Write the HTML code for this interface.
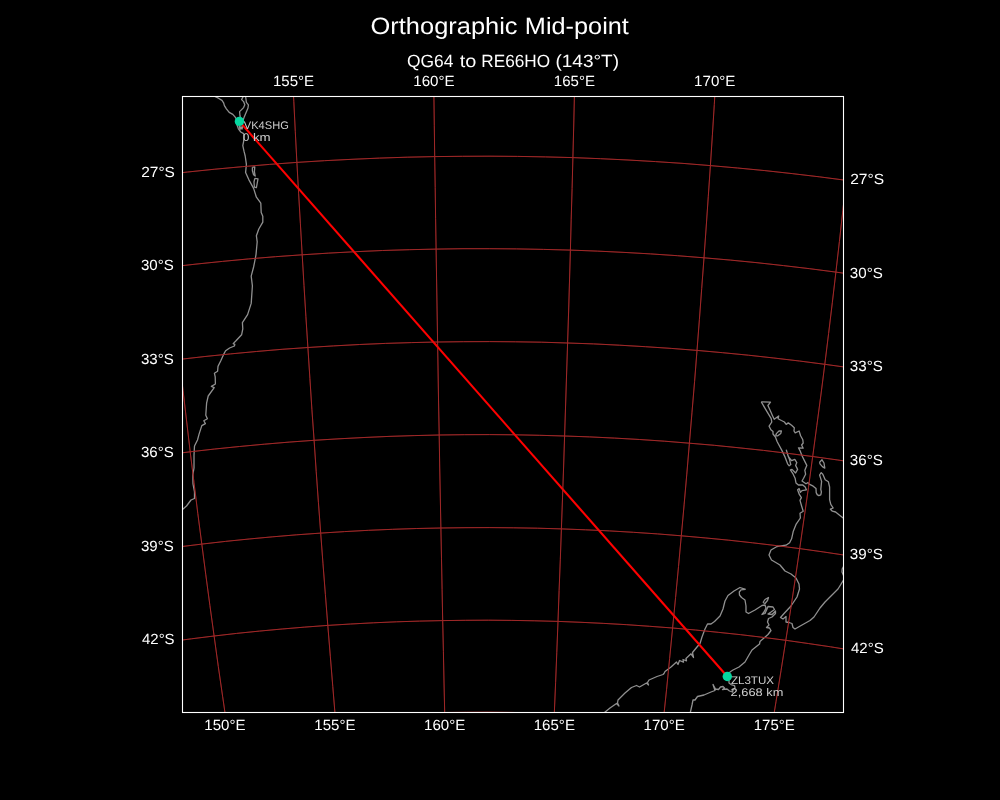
<!DOCTYPE html>
<html><head><meta charset="utf-8"><title>Orthographic Mid-point</title>
<style>html,body{margin:0;padding:0;background:#000;}body{width:1000px;height:800px;overflow:hidden;font-family:"Liberation Sans",sans-serif;}svg{display:block;}</style>
</head><body>
<svg width="1000" height="800" viewBox="0 0 1000 800" style="will-change:transform">
<defs><clipPath id="ax"><rect x="182.5" y="96.5" width="661" height="616"/></clipPath></defs>
<rect width="1000" height="800" fill="#000"/>
<g clip-path="url(#ax)" fill="none" stroke-linejoin="round" stroke-linecap="butt">
<path d="M214.8 96.5 L218.4 98.2 L222.0 100.4 L223.6 102.8 L224.4 105.6 L226.4 108.8 L229.2 112.4 L232.8 114.4 L235.2 117.2 L237.0 120.0 L236.8 123.5 L237.2 125.6 L238.4 128.8 L240.8 132.0 L243.6 133.6 L244.0 136.8 L243.6 141.6 L242.8 145.6 L244.0 151.2 L245.2 156.0 L246.4 164.4 L245.6 172.4 L248.8 179.6 L253.6 188.4 L256.4 197.2 L260.8 203.2 L261.2 212.6 L262.8 216.2 L262.8 222.2 L258.8 229.0 L256.4 235.8 L257.2 241.8 L256.0 254.6 L254.8 261.0 L253.6 267.0 L251.2 276.2 L252.4 285.8 L251.2 303.4 L247.6 314.6 L242.4 322.6 L242.8 328.8 L241.6 334.8 L236.0 340.8 L233.2 343.6 L234.8 344.4 L234.4 346.0 L229.6 348.0 L225.6 350.8 L223.6 354.4 L220.8 360.8 L218.0 366.4 L217.6 371.2 L214.4 373.2 L215.2 376.8 L215.4 384.0 L211.4 386.4 L214.2 387.6 L208.2 396.0 L206.6 403.2 L205.8 415.2 L207.4 418.8 L203.8 420.8 L205.4 423.6 L201.8 425.6 L199.0 434.4 L197.5 440.0 L194.5 446.0 L194.0 455.0 L194.0 468.0 L192.8 475.0 L193.0 484.0 L194.5 492.0 L194.5 498.5 L191.0 500.0 L186.5 506.0 L182.5 509.5" stroke="#909090" stroke-width="1.3"/>
<path d="M239.2 126.0 L240.0 129.5 L241.0 126.5 L242.0 129.2 L243.0 125.5" stroke="#909090" stroke-width="1.3"/>
<path d="M243.2 96.5 L241.6 99.6 L243.6 101.6 L244.8 104.8 L243.6 107.6 L239.6 111.6 L240.0 116.0 L241.0 120.0 L242.5 122.0 L244.0 117.6 L246.0 112.8 L248.0 108.0 L248.4 104.8 L246.4 102.4 L245.6 96.5" stroke="#909090" stroke-width="1.3"/>
<path d="M252.4 167.2 L254.8 166.8 L254.4 171.6 L255.2 176.0 L253.6 174.8 L252.4 170.8 L252.4 167.2" stroke="#909090" stroke-width="1.3"/>
<path d="M254.8 178.4 L258.0 178.8 L256.4 187.6 L254.4 187.2 L254.0 182.0 L254.8 178.4" stroke="#909090" stroke-width="1.3"/>
<path d="M761.3 401.9 L770.5 402.1 L767.9 405.5 L770.0 410.0 L772.4 415.4 L774.2 419.3 L778.7 416.0 L778.1 418.7 L781.4 420.5 L784.4 422.0 L786.2 424.4 L788.3 422.9 L791.6 425.3 L794.3 427.7 L794.0 431.0 L795.2 432.8 L799.1 431.0 L800.6 435.8 L802.8 439.8 L803.2 443.0 L801.6 445.0 L803.2 448.2 L798.4 447.8 L800.0 450.6 L802.0 455.8 L804.4 460.6 L806.8 465.4 L804.8 470.2 L805.6 474.2 L803.6 478.2 L802.0 481.0 L806.0 483.8 L808.0 482.6 L809.2 484.2 L813.2 486.2 L816.0 488.6 L816.2 492.6 L817.2 494.6 L818.8 495.6 L820.8 494.8 L821.4 492.0 L820.8 489.4 L821.6 481.4 L819.6 475.0 L821.2 472.6 L822.8 474.2 L825.2 479.8 L828.4 481.8 L829.6 487.0 L829.6 499.6 L830.8 504.4 L833.2 508.0 L830.4 509.2 L832.4 511.2 L835.6 512.0 L839.6 515.2 L843.5 518.2" stroke="#909090" stroke-width="1.3"/>
<path d="M761.3 401.9 L764.6 407.6 L768.2 413.6 L771.2 418.7 L771.8 422.0 L769.1 426.2 L770.9 429.8 L773.0 431.6 L773.0 434.0 L775.4 437.0 L777.2 441.8 L782.0 450.6 L785.2 457.4 L787.6 463.8 L789.2 465.8 L790.8 464.6 L789.6 459.8 L788.0 455.8 L786.4 450.2 L788.4 456.6 L791.6 460.6 L794.8 459.4 L796.8 462.6 L795.6 465.4 L797.6 469.4 L795.6 473.0 L792.0 469.4 L790.4 469.8 L793.2 474.2 L795.2 478.6 L796.0 483.0 L798.4 485.0 L802.8 485.0 L805.2 487.0 L806.4 489.8 L802.0 490.6 L800.4 492.2 L799.2 488.6 L797.6 489.8 L799.2 494.2 L801.4 497.6 L800.0 500.4 L801.6 506.0 L803.2 511.2 L800.0 513.2 L800.4 518.0 L796.0 524.4 L793.2 531.6 L791.6 538.8 L789.6 542.8 L786.0 545.2 L777.0 546.5 L771.0 550.0 L769.0 555.0 L771.5 560.0 L780.0 565.0 L785.0 571.0 L791.0 574.0 L796.0 578.0 L799.0 584.0 L799.5 589.0 L797.0 597.0 L791.0 606.0 L784.5 613.0 L780.5 617.5 L783.0 619.0 L786.0 616.5 L786.0 622.0 L789.0 622.5 L792.0 623.5 L793.0 627.5 L795.0 629.0 L802.0 625.0 L810.0 620.5 L814.0 617.0 L820.0 608.0 L825.0 602.0 L832.0 595.0 L838.0 589.0 L843.5 580.0" stroke="#909090" stroke-width="1.3"/>
<path d="M843.5 566.5 L842.2 569.0 L842.0 572.0 L843.5 575.5" stroke="#909090" stroke-width="1.3"/>
<path d="M775.4 435.8 L776.6 433.4 L779.0 431.0 L781.4 431.0 L780.8 433.4 L777.8 435.8 L775.4 435.8" stroke="#909090" stroke-width="1.3"/>
<path d="M819.6 462.2 L822.0 459.8 L824.0 463.0 L824.8 468.2 L822.4 466.6 L820.0 463.8 L819.6 462.2" stroke="#909090" stroke-width="1.3"/>
<path d="M745.5 589.3 L740.0 587.5 L734.0 591.0 L728.0 595.5 L725.0 601.0 L723.0 609.0 L720.0 616.0 L714.5 621.5 L711.0 624.0 L707.5 624.0 L705.0 629.0 L702.0 637.0 L700.0 643.5 L697.0 647.0 L692.5 652.5 L693.5 657.5 L691.0 653.8 L686.0 658.5 L686.5 660.8 L683.0 659.5 L683.5 662.2 L679.5 660.5 L678.0 664.5 L676.5 662.0 L671.0 667.0 L665.0 671.5 L664.0 673.5 L663.0 674.5 L657.0 676.5 L649.0 680.0 L647.5 682.5 L648.5 685.0 L646.5 683.0 L639.5 687.0 L636.5 685.5 L631.5 687.5 L625.0 693.0 L618.0 700.0 L617.5 703.0 L619.0 706.0 L616.5 703.5 L610.0 708.0 L604.5 712.5" stroke="#909090" stroke-width="1.3"/>
<path d="M745.5 589.3 L741.0 589.8 L739.3 592.0 L739.5 595.0 L741.5 597.5 L745.0 600.0 L746.0 606.0 L746.0 612.0 L748.5 613.5 L755.0 610.0 L762.0 605.5 L765.0 605.0 L766.0 608.0 L764.0 612.0 L762.0 614.5 L765.0 613.5 L767.0 609.0 L768.0 606.5 L773.0 607.0 L774.5 609.5 L771.0 612.0 L768.0 614.0 L772.0 614.5 L775.5 611.0 L775.5 613.5 L772.0 617.0 L768.5 618.5 L767.5 622.0 L769.0 625.0 L766.5 627.5 L769.5 628.0 L771.0 630.5 L768.0 634.5 L764.0 638.0 L760.0 641.5 L759.5 644.0 L752.0 650.0 L749.0 655.0 L745.0 662.0 L739.0 667.0 L733.0 670.0 L730.0 672.0 L728.0 676.0 L729.0 680.0 L729.0 683.0 L731.0 684.5 L734.5 685.5 L735.0 688.0 L733.0 690.0 L732.5 692.0 L729.5 691.0 L727.0 689.0 L722.5 689.5 L724.5 688.0 L723.0 686.5 L720.5 687.0 L718.5 689.5 L715.5 689.0 L713.0 684.5 L715.0 690.5 L711.0 692.0 L704.0 695.0 L697.5 696.5 L695.0 700.0 L693.0 700.0 L692.0 705.0 L690.3 712.5" stroke="#909090" stroke-width="1.3"/>
<path d="M763.0 602.5 L765.0 599.5 L768.5 597.5 L767.5 600.5 L765.0 603.5 L763.0 602.5" stroke="#909090" stroke-width="1.3"/>
<defs><path id="grid" d="M133.7 802.4 L127.2 772.6 L120.8 742.7 L114.6 712.6 L108.4 682.4 L102.4 652.2 L96.4 621.9 L90.6 591.5 L84.9 561.1 L79.4 530.6 L73.9 500.0 L68.6 469.5 L63.4 438.9 L58.4 408.3 L53.4 377.7 L48.6 347.1 L44.0 316.5 L39.4 286.0 L35.0 255.4 L30.8 225.0 L26.6 194.5 L22.7 164.2 L18.8 133.9 L15.1 103.7 L11.5 73.6 M236.2 787.6 L231.6 757.5 L227.1 727.2 L222.7 696.9 L218.3 666.5 L214.1 636.0 L209.9 605.4 L205.8 574.8 L201.8 544.1 L197.8 513.4 L194.0 482.6 L190.2 451.8 L186.6 421.0 L183.0 390.2 L179.5 359.4 L176.1 328.6 L172.8 297.8 L169.6 267.1 L166.5 236.4 L163.5 205.7 L160.6 175.1 L157.8 144.6 L155.0 114.1 L152.4 83.8 L149.9 53.5 M340.6 777.9 L337.9 747.6 L335.3 717.2 L332.8 686.7 L330.3 656.1 L327.8 625.4 L325.4 594.7 L323.0 563.9 L320.7 533.1 L318.4 502.2 L316.2 471.3 L314.1 440.3 L311.9 409.4 L309.9 378.4 L307.9 347.5 L305.9 316.5 L304.0 285.6 L302.2 254.8 L300.4 223.9 L298.6 193.1 L296.9 162.4 L295.3 131.8 L293.8 101.2 L292.2 70.8 L290.8 40.4 M446.0 773.4 L445.4 743.0 L444.7 712.5 L444.0 682.0 L443.4 651.3 L442.7 620.6 L442.1 589.8 L441.5 558.9 L440.9 528.0 L440.3 497.0 L439.7 466.0 L439.2 435.0 L438.6 404.0 L438.1 373.0 L437.6 342.0 L437.1 311.0 L436.6 280.0 L436.1 249.1 L435.6 218.2 L435.2 187.4 L434.7 156.6 L434.3 125.9 L433.9 95.3 L433.5 64.8 L433.1 34.4 M551.8 774.2 L553.1 743.8 L554.3 713.4 L555.6 682.8 L556.8 652.2 L558.0 621.4 L559.1 590.6 L560.3 559.8 L561.4 528.9 L562.5 497.9 L563.6 467.0 L564.6 436.0 L565.6 405.0 L566.6 374.0 L567.6 343.0 L568.6 312.0 L569.5 281.0 L570.4 250.1 L571.2 219.2 L572.1 188.4 L572.9 157.6 L573.7 127.0 L574.4 96.4 L575.2 65.8 L575.9 35.4 M657.0 780.3 L660.3 750.0 L663.4 719.7 L666.6 689.2 L669.6 658.7 L672.6 628.0 L675.6 597.3 L678.5 566.6 L681.3 535.8 L684.1 504.9 L686.8 474.1 L689.4 443.2 L692.0 412.2 L694.6 381.3 L697.0 350.4 L699.4 319.5 L701.7 288.6 L704.0 257.8 L706.2 227.0 L708.3 196.2 L710.4 165.6 L712.4 134.9 L714.3 104.4 L716.1 74.0 L717.9 43.6 M760.9 791.5 L766.1 761.5 L771.2 731.4 L776.1 701.1 L781.0 670.8 L785.8 640.3 L790.6 609.8 L795.2 579.3 L799.7 548.6 L804.1 518.0 L808.5 487.3 L812.7 456.5 L816.8 425.8 L820.9 395.0 L824.8 364.3 L828.6 333.5 L832.3 302.8 L835.9 272.1 L839.4 241.5 L842.8 210.8 L846.1 180.3 L849.3 149.8 L852.4 119.4 L855.3 89.1 L858.1 58.8 M862.7 808.0 L869.8 778.2 L876.7 748.4 L883.5 718.4 L890.2 688.3 L896.8 658.2 L903.2 628.0 L909.5 597.7 L915.7 567.3 L921.7 536.9 L927.7 506.5 L933.4 476.0 L939.1 445.5 L944.6 415.0 L950.0 384.5 L955.2 353.9 L960.3 323.4 L965.2 292.9 L970.0 262.5 L974.6 232.1 L979.1 201.7 L983.4 171.4 L987.6 141.2 L991.7 111.1 L995.5 81.0 M120.4 835.7 L140.3 832.2 L160.2 828.8 L180.2 825.7 L200.3 822.8 L220.5 820.1 L240.8 817.6 L261.2 815.3 L281.6 813.2 L302.1 811.3 L322.7 809.6 L343.3 808.1 L363.9 806.8 L384.6 805.7 L405.3 804.8 L426.0 804.1 L446.7 803.7 L467.5 803.4 L488.2 803.4 L509.0 803.5 L529.8 803.9 L550.5 804.5 L571.2 805.2 L591.9 806.2 L612.5 807.4 L633.2 808.8 L653.7 810.4 L674.3 812.2 L694.7 814.2 L715.1 816.4 L735.4 818.8 L755.7 821.5 L775.8 824.3 L795.9 827.3 L815.9 830.5 L835.8 833.9 L855.5 837.6 L875.2 841.4 L894.7 845.4 M99.9 746.4 L120.8 742.7 L141.9 739.1 L163.0 735.9 L184.3 732.8 L205.7 729.9 L227.1 727.2 L248.6 724.8 L270.2 722.6 L291.9 720.6 L313.6 718.8 L335.3 717.2 L357.1 715.8 L379.0 714.7 L400.9 713.7 L422.8 713.0 L444.7 712.5 L466.6 712.3 L488.6 712.2 L510.5 712.4 L532.4 712.8 L554.3 713.4 L576.2 714.2 L598.1 715.2 L619.9 716.5 L641.7 718.0 L663.4 719.7 L685.1 721.6 L706.7 723.7 L728.3 726.0 L749.8 728.6 L771.2 731.4 L792.5 734.3 L813.7 737.5 L834.8 740.9 L855.8 744.5 L876.7 748.4 L897.5 752.4 L918.1 756.6 M80.3 656.1 L102.4 652.2 L124.5 648.5 L146.7 645.1 L169.1 641.8 L191.5 638.8 L214.1 636.0 L236.7 633.4 L259.4 631.1 L282.1 629.0 L304.9 627.1 L327.8 625.4 L350.7 624.0 L373.7 622.8 L396.7 621.8 L419.7 621.1 L442.7 620.6 L465.8 620.3 L488.8 620.2 L511.9 620.4 L534.9 620.8 L558.0 621.4 L581.0 622.3 L603.9 623.4 L626.9 624.7 L649.8 626.3 L672.6 628.0 L695.4 630.0 L718.1 632.3 L740.8 634.7 L763.4 637.4 L785.8 640.3 L808.2 643.5 L830.5 646.8 L852.7 650.4 L874.8 654.2 L896.8 658.2 L918.6 662.4 L940.3 666.9 M61.9 565.1 L84.9 561.1 L108.1 557.2 L131.4 553.6 L154.7 550.2 L178.2 547.0 L201.8 544.1 L225.4 541.4 L249.1 539.0 L272.9 536.8 L296.8 534.8 L320.7 533.1 L344.7 531.6 L368.7 530.3 L392.7 529.3 L416.8 528.5 L440.9 528.0 L465.0 527.7 L489.1 527.6 L513.2 527.8 L537.3 528.2 L561.4 528.9 L585.5 529.8 L609.5 530.9 L633.5 532.3 L657.4 533.9 L681.3 535.8 L705.1 537.9 L728.9 540.2 L752.6 542.8 L776.2 545.6 L799.7 548.6 L823.1 551.9 L846.4 555.4 L869.6 559.2 L892.7 563.1 L915.7 567.3 L938.5 571.8 L961.2 576.4 M44.7 473.7 L68.6 469.5 L92.7 465.5 L116.9 461.7 L141.3 458.2 L165.7 454.9 L190.2 451.8 L214.8 449.0 L239.5 446.5 L264.3 444.2 L289.2 442.1 L314.1 440.3 L339.0 438.8 L364.0 437.5 L389.0 436.4 L414.1 435.6 L439.2 435.0 L464.3 434.7 L489.4 434.6 L514.5 434.8 L539.6 435.3 L564.6 436.0 L589.7 436.9 L614.7 438.1 L639.7 439.5 L664.6 441.2 L689.4 443.2 L714.3 445.3 L739.0 447.8 L763.6 450.4 L788.2 453.4 L812.7 456.5 L837.1 459.9 L861.4 463.6 L885.5 467.5 L909.5 471.6 L933.4 476.0 L957.2 480.6 L980.8 485.5 M28.6 382.1 L53.4 377.7 L78.4 373.5 L103.5 369.6 L128.7 366.0 L154.1 362.6 L179.5 359.4 L205.0 356.5 L230.6 353.9 L256.3 351.5 L282.1 349.3 L307.9 347.5 L333.7 345.9 L359.6 344.5 L385.6 343.4 L411.6 342.6 L437.6 342.0 L463.6 341.7 L489.6 341.6 L515.6 341.8 L541.6 342.2 L567.6 343.0 L593.6 343.9 L619.5 345.2 L645.4 346.7 L671.2 348.4 L697.0 350.4 L722.7 352.7 L748.4 355.2 L773.9 358.0 L799.4 361.0 L824.8 364.3 L850.1 367.8 L875.2 371.6 L900.3 375.6 L925.2 379.9 L950.0 384.5 L974.6 389.2 L999.1 394.3 M13.8 290.5 L39.4 286.0 L65.2 281.7 L91.2 277.6 L117.2 273.8 L143.4 270.3 L169.6 267.1 L196.0 264.1 L222.4 261.4 L248.9 258.9 L275.5 256.7 L302.2 254.8 L328.9 253.1 L355.6 251.7 L382.4 250.5 L409.2 249.7 L436.1 249.1 L463.0 248.7 L489.8 248.7 L516.7 248.9 L543.5 249.4 L570.4 250.1 L597.2 251.1 L624.0 252.4 L650.7 253.9 L677.4 255.7 L704.0 257.8 L730.6 260.1 L757.0 262.7 L783.4 265.6 L809.7 268.7 L835.9 272.1 L862.0 275.8 L888.0 279.7 L913.9 283.8 L939.6 288.3 L965.2 292.9 L990.6 297.9 L1015.9 303.1 M0.2 199.2 L26.6 194.5 L53.2 190.1 L79.9 186.0 L106.6 182.1 L133.6 178.5 L160.6 175.1 L187.7 172.0 L214.9 169.2 L242.2 166.7 L269.5 164.4 L296.9 162.4 L324.4 160.7 L352.0 159.3 L379.5 158.1 L407.1 157.2 L434.7 156.6 L462.4 156.3 L490.0 156.2 L517.7 156.4 L545.3 156.9 L572.9 157.6 L600.5 158.7 L628.0 160.0 L655.5 161.6 L683.0 163.4 L710.4 165.6 L737.7 168.0 L764.9 170.6 L792.1 173.6 L819.2 176.8 L846.1 180.3 L873.0 184.0 L899.7 188.1 L926.3 192.4 L952.8 196.9 L979.1 201.7 L1005.3 206.8 L1031.3 212.1 M-12.0 108.5 L15.1 103.7 L42.3 99.1 L69.7 94.9 L97.1 90.9 L124.7 87.2 L152.4 83.8 L180.2 80.6 L208.1 77.7 L236.1 75.1 L264.1 72.8 L292.2 70.8 L320.4 69.0 L348.6 67.5 L376.9 66.3 L405.2 65.4 L433.5 64.8 L461.9 64.4 L490.2 64.4 L518.5 64.6 L546.9 65.1 L575.2 65.8 L603.5 66.9 L631.7 68.3 L659.9 69.9 L688.1 71.8 L716.1 74.0 L744.1 76.4 L772.1 79.2 L799.9 82.2 L827.7 85.5 L855.3 89.1 L882.8 92.9 L910.2 97.0 L937.5 101.4 L964.7 106.1 L991.7 111.1 L1018.5 116.3 L1045.2 121.7 M-22.8 18.5 L4.8 13.6 L32.7 9.0 L60.6 4.6 L88.7 0.6 L116.9 -3.2 L145.2 -6.7 L173.6 -10.0 L202.1 -12.9 L230.7 -15.6 L259.3 -17.9 L288.1 -20.0 L316.9 -21.8 L345.7 -23.3 L374.6 -24.5 L403.5 -25.5 L432.4 -26.1 L461.4 -26.5 L490.4 -26.6 L519.3 -26.3 L548.3 -25.8 L577.2 -25.0 L606.1 -23.9 L635.0 -22.6 L663.8 -20.9 L692.5 -19.0 L721.2 -16.7 L749.9 -14.2 L778.4 -11.4 L806.9 -8.3 L835.2 -5.0 L863.5 -1.3 L891.6 2.6 L919.6 6.9 L947.5 11.3 L975.2 16.1 L1002.8 21.2 L1030.2 26.5 L1057.5 32.1"/></defs>
<use href="#grid" stroke="#a52a2a" stroke-width="1.0" stroke-opacity="0.93"/>
<path d="M239.40 121.40 L727.30 676.45" stroke="#ff0000" stroke-width="2.1"/>
<use href="#grid" stroke="#a52a2a" stroke-width="1.0" stroke-opacity="0.5"/>
<circle cx="239.40" cy="121.40" r="4.7" fill="#06d6a0" stroke="none"/>
<circle cx="727.30" cy="676.45" r="4.7" fill="#06d6a0" stroke="none"/>
</g>
<rect x="182.5" y="96.5" width="661" height="616" fill="none" stroke="#fff" stroke-width="1.1"/>
<g font-family="Liberation Sans, sans-serif" text-rendering="geometricPrecision">
<text x="370.58" y="33.90" font-size="23.6" fill="#ffffff" textLength="146.93" lengthAdjust="spacingAndGlyphs">Orthographic</text>
<text x="524.87" y="33.90" font-size="23.6" fill="#ffffff" textLength="103.98" lengthAdjust="spacingAndGlyphs">Mid-point</text>
<text x="406.93" y="66.90" font-size="17.7" fill="#ffffff" textLength="46.44" lengthAdjust="spacingAndGlyphs">QG64</text>
<text x="459.66" y="66.90" font-size="17.7" fill="#ffffff" textLength="16.64" lengthAdjust="spacingAndGlyphs">to</text>
<text x="481.31" y="66.90" font-size="17.7" fill="#ffffff" textLength="68.80" lengthAdjust="spacingAndGlyphs">RE66HO</text>
<text x="555.45" y="66.90" font-size="17.7" fill="#ffffff" textLength="63.56" lengthAdjust="spacingAndGlyphs">(143°T)</text>
<text x="272.91" y="85.90" font-size="14.75" fill="#ffffff" textLength="41.26" lengthAdjust="spacingAndGlyphs">155°E</text>
<text x="413.28" y="85.90" font-size="14.75" fill="#ffffff" textLength="41.33" lengthAdjust="spacingAndGlyphs">160°E</text>
<text x="553.86" y="85.90" font-size="14.75" fill="#ffffff" textLength="41.16" lengthAdjust="spacingAndGlyphs">165°E</text>
<text x="694.14" y="85.90" font-size="14.75" fill="#ffffff" textLength="41.34" lengthAdjust="spacingAndGlyphs">170°E</text>
<text x="204.30" y="729.80" font-size="14.75" fill="#ffffff" textLength="41.18" lengthAdjust="spacingAndGlyphs">150°E</text>
<text x="314.28" y="729.80" font-size="14.75" fill="#ffffff" textLength="41.18" lengthAdjust="spacingAndGlyphs">155°E</text>
<text x="424.05" y="729.80" font-size="14.75" fill="#ffffff" textLength="41.24" lengthAdjust="spacingAndGlyphs">160°E</text>
<text x="533.75" y="729.80" font-size="14.75" fill="#ffffff" textLength="41.19" lengthAdjust="spacingAndGlyphs">165°E</text>
<text x="643.63" y="729.80" font-size="14.75" fill="#ffffff" textLength="41.16" lengthAdjust="spacingAndGlyphs">170°E</text>
<text x="753.77" y="729.80" font-size="14.75" fill="#ffffff" textLength="41.02" lengthAdjust="spacingAndGlyphs">175°E</text>
<text x="141.20" y="177.10" font-size="14.75" fill="#ffffff" textLength="33.69" lengthAdjust="spacingAndGlyphs">27°S</text>
<text x="850.18" y="184.44" font-size="14.75" fill="#ffffff" textLength="33.92" lengthAdjust="spacingAndGlyphs">27°S</text>
<text x="141.00" y="270.08" font-size="14.75" fill="#ffffff" textLength="32.82" lengthAdjust="spacingAndGlyphs">30°S</text>
<text x="849.87" y="277.64" font-size="14.75" fill="#ffffff" textLength="32.96" lengthAdjust="spacingAndGlyphs">30°S</text>
<text x="141.00" y="363.55" font-size="14.75" fill="#ffffff" textLength="32.82" lengthAdjust="spacingAndGlyphs">33°S</text>
<text x="849.87" y="371.37" font-size="14.75" fill="#ffffff" textLength="32.96" lengthAdjust="spacingAndGlyphs">33°S</text>
<text x="141.00" y="457.26" font-size="14.75" fill="#ffffff" textLength="32.82" lengthAdjust="spacingAndGlyphs">36°S</text>
<text x="849.87" y="465.39" font-size="14.75" fill="#ffffff" textLength="32.96" lengthAdjust="spacingAndGlyphs">36°S</text>
<text x="141.00" y="550.99" font-size="14.75" fill="#ffffff" textLength="32.82" lengthAdjust="spacingAndGlyphs">39°S</text>
<text x="849.87" y="559.46" font-size="14.75" fill="#ffffff" textLength="32.96" lengthAdjust="spacingAndGlyphs">39°S</text>
<text x="141.99" y="644.49" font-size="14.75" fill="#ffffff" textLength="32.62" lengthAdjust="spacingAndGlyphs">42°S</text>
<text x="850.99" y="653.37" font-size="14.75" fill="#ffffff" textLength="32.80" lengthAdjust="spacingAndGlyphs">42°S</text>
<text x="243.84" y="128.70" font-size="11.05" fill="#cccccc" textLength="45.00" lengthAdjust="spacingAndGlyphs">VK4SHG</text>
<text x="243.07" y="140.80" font-size="11.05" fill="#cccccc" textLength="6.30" lengthAdjust="spacingAndGlyphs">0</text>
<text x="252.98" y="140.80" font-size="11.05" fill="#cccccc" textLength="17.75" lengthAdjust="spacingAndGlyphs">km</text>
<text x="730.93" y="683.85" font-size="11.05" fill="#cccccc" textLength="43.09" lengthAdjust="spacingAndGlyphs">ZL3TUX</text>
<text x="730.61" y="695.75" font-size="11.05" fill="#cccccc" textLength="32.12" lengthAdjust="spacingAndGlyphs">2,668</text>
<text x="766.30" y="695.75" font-size="11.05" fill="#cccccc" textLength="17.06" lengthAdjust="spacingAndGlyphs">km</text>
</g>
</svg>
</body></html>
